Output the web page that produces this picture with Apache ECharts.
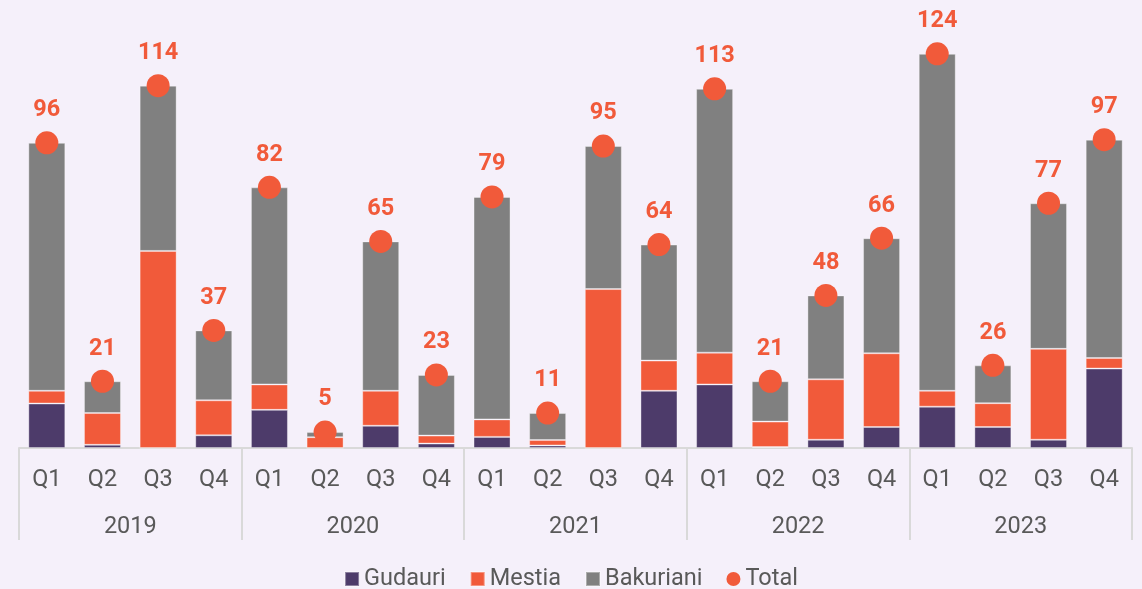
<!DOCTYPE html>
<html>
<head>
<meta charset="utf-8">
<script src="https://cdn.jsdelivr.net/npm/echarts@6/dist/echarts.min.js"></script>
<style>
html,body{margin:0;padding:0;background:#F5F0FA;}
#chart{width:1142px;height:589px;}
</style>
</head>
<body>
<div id="chart"></div>
<script>
const quarters = ['Q1','Q2','Q3','Q4','Q1','Q2','Q3','Q4','Q1','Q2','Q3','Q4','Q1','Q2','Q3','Q4','Q1','Q2','Q3','Q4'];
const years = ['2019','2020','2021','2022','2023'];
const gudauri   = [14, 1, 0, 4,   12, 0, 7, 1.4,   3.5, 0.8, 0, 18,   20, 0.3, 2.6, 6.6,   13, 6.6, 2.6, 25];
const mestia    = [4, 10, 62, 11, 8, 3.4, 11, 2.5, 5.5, 1.7, 50, 9.5, 10, 8, 19, 23.2, 5, 7.5, 28.6, 3.3];
const bakuriani = [78, 10, 52, 22, 62, 1.6, 47, 19.1, 70, 8.5, 45, 36.5, 83, 12.7, 26.4, 36.2, 106, 11.9, 45.8, 68.7];
const total     = [96, 21, 114, 37, 82, 5, 65, 23, 79, 11, 95, 64, 113, 21, 48, 66, 124, 26, 77, 97];

const FONT = 'Roboto';
const chart = echarts.init(document.getElementById('chart'));
const barStyle = c => ({color: c, borderColor: 'rgba(255,255,255,0.35)', borderWidth: 1});
chart.setOption({
  backgroundColor: '#F5F0FA',
  textStyle: {fontFamily: FONT},
  animation: false,
  grid: {left: 19, right: 10, top: 3, bottom: 141},
  legend: {
    left: 'center', top: 562,
    itemWidth: 14, itemHeight: 14, itemGap: 24,
    textStyle: {fontSize: 23.5, color: '#595959', fontFamily: FONT},
    data: [
      {name: 'Gudauri', icon: 'rect'},
      {name: 'Mestia', icon: 'rect'},
      {name: 'Bakuriani', icon: 'rect'},
      {name: 'Total', icon: 'circle'}
    ]
  },
  xAxis: [
    {
      type: 'category', data: quarters, position: 'bottom',
      axisLine: {show: true, lineStyle: {color: '#D9D9D9', width: 2}},
      axisTick: {show: false},
      axisLabel: {margin: 20.5, fontSize: 23.5, color: '#595959', fontFamily: FONT, interval: 0}
    },
    {
      type: 'category', data: years, position: 'bottom',
      axisLine: {show: false},
      axisTick: {show: true, length: 92, interval: 0, lineStyle: {color: '#D9D9D9', width: 2}},
      axisLabel: {margin: 67, fontSize: 23.5, color: '#595959', fontFamily: FONT, interval: 0}
    }
  ],
  yAxis: {type: 'value', min: 0, max: 140, show: false, splitLine: {show: false}},
  series: [
    {name: 'Gudauri', type: 'bar', stack: 's', barWidth: 37, data: gudauri, itemStyle: barStyle('#4D3B6A')},
    {name: 'Mestia', type: 'bar', stack: 's', barWidth: 37, data: mestia, itemStyle: barStyle('#F15A3A')},
    {name: 'Bakuriani', type: 'bar', stack: 's', barWidth: 37, data: bakuriani, itemStyle: barStyle('#808080')},
    {
      name: 'Total', type: 'scatter', data: total, symbolSize: 23,
      itemStyle: {color: '#F15A3A', opacity: 1},
      z: 5,
      label: {show: true, position: 'top', distance: 9, fontSize: 23.5, fontWeight: 'bold', color: '#F15A3A', fontFamily: FONT}
    }
  ]
});
</script>
</body>
</html>
